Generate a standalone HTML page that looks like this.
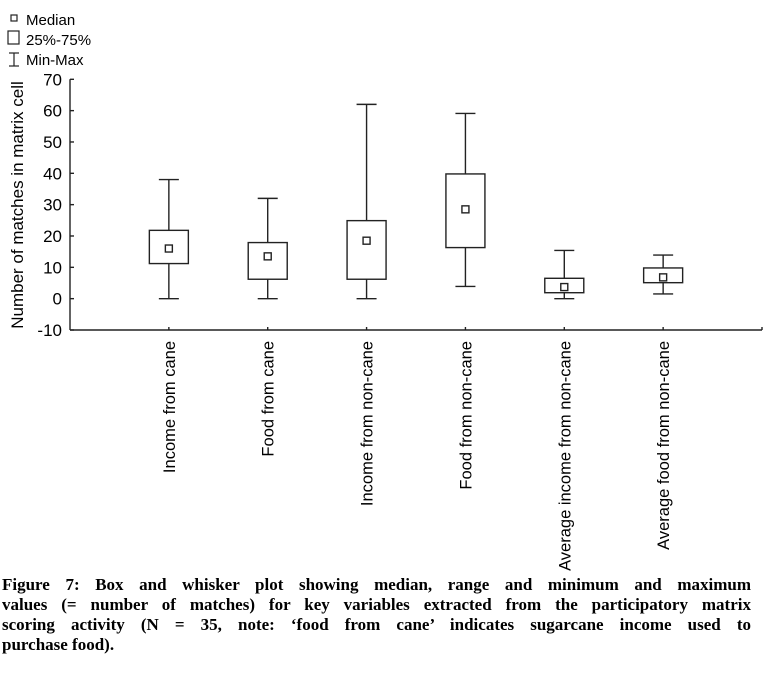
<!DOCTYPE html>
<html><head><meta charset="utf-8">
<style>
body{margin:0;background:#fff;width:776px;height:674px;overflow:hidden;position:relative;font-family:"Liberation Sans",sans-serif;}
svg{position:absolute;left:0;top:0;}
.cap{position:absolute;left:2px;width:749px;font-family:"Liberation Serif",serif;font-weight:bold;font-size:17px;line-height:20px;color:#000;white-space:nowrap;}
.j{text-align:justify;text-align-last:justify;}
</style></head>
<body>
<svg id="chart" width="776" height="575"></svg>
<div class="cap j" style="top:575px">Figure 7: Box and whisker plot showing median, range and minimum and maximum</div>
<div class="cap j" style="top:595px">values (= number of matches) for key variables extracted from the participatory matrix</div>
<div class="cap j" style="top:615px">scoring activity (N = 35, note: ‘food from cane’ indicates sugarcane income used to</div>
<div class="cap" style="top:635px">purchase food).</div>
<script>
const categories=["Income from cane","Food from cane","Income from non-cane","Food from non-cane","Average income from non-cane","Average food from non-cane"];
const mins=[0,0,0,3.9,0,1.5];
const q1s=[11.2,6.2,6.2,16.3,1.9,5.1];
const medians=[16,13.5,18.5,28.5,3.7,6.8];
const q3s=[21.8,17.9,24.9,39.8,6.5,9.8];
const maxs=[38,32,62,59.1,15.4,13.9];
const yTicks=[-10,0,10,20,30,40,50,60,70];

const NS="http://www.w3.org/2000/svg";
const svg=document.getElementById('chart');
const axL=70,axR=762,yTop=79.3,yBot=330;
const yMin=-10,yMax=70;
function y(v){return yBot-(v-yMin)/(yMax-yMin)*(yBot-yTop);}
const slot=(axR-axL)/(categories.length+1);
function x(i){return axL+slot*(i+1);}
function mk(tag,attrs){const e=document.createElementNS(NS,tag);for(const k in attrs)e.setAttribute(k,attrs[k]);svg.appendChild(e);return e;}
const st={stroke:"#222","stroke-width":1.4,fill:"none"};

let e=mk('line',Object.assign({x1:axL,y1:yTop,x2:axL,y2:yBot},st));


e=mk('line',Object.assign({x1:axL,y1:yBot,x2:axR,y2:yBot},st));


mk('line',Object.assign({x1:axR,y1:yBot,x2:axR,y2:yBot-3},st));
yTicks.forEach(t=>{
  mk('line',Object.assign({x1:axL,y1:y(t),x2:axL+4,y2:y(t)},st));
  const tx=mk('text',{x:62,y:y(t)+6,"text-anchor":"end","font-size":17,"font-family":"Liberation Sans, sans-serif"});
  tx.textContent=t;
  
  
});
const yt=mk('text',{transform:"translate(23,205) rotate(-90)","text-anchor":"middle","font-size":17,"font-family":"Liberation Sans, sans-serif"});
yt.textContent="Number of matches in matrix cell";



categories.forEach((c,i)=>{
  const cx=x(i),bw=19.5,cw=10;
  const g=document.createElementNS(NS,'g');svg.appendChild(g);
  
  
  const add=(tag,a)=>{const el=document.createElementNS(NS,tag);for(const k in a)el.setAttribute(k,a[k]);for(const k in st)if(!(k in a))el.setAttribute(k,st[k]);g.appendChild(el);};
  add('line',{x1:cx,y1:y(maxs[i]),x2:cx,y2:y(q3s[i])});
  add('line',{x1:cx,y1:y(q1s[i]),x2:cx,y2:y(mins[i])});
  add('line',{x1:cx-cw,y1:y(maxs[i]),x2:cx+cw,y2:y(maxs[i])});
  add('line',{x1:cx-cw,y1:y(mins[i]),x2:cx+cw,y2:y(mins[i])});
  add('rect',{x:cx-bw,y:y(q3s[i]),width:2*bw,height:y(q1s[i])-y(q3s[i]),fill:"#fff"});
  add('rect',{x:cx-3.5,y:y(medians[i])-3.5,width:7,height:7,fill:"#fff"});
  mk('line',Object.assign({x1:cx,y1:yBot,x2:cx,y2:yBot-3},st));
  const lt=mk('text',{transform:`translate(${cx+6},341) rotate(-90)`,"text-anchor":"end","font-size":16.5,"font-family":"Liberation Sans, sans-serif"});
  lt.textContent=c;
  
  
});

// legend
const lg=document.createElementNS(NS,'g');svg.appendChild(lg);


function la(tag,a,txt){const el=document.createElementNS(NS,tag);for(const k in a)el.setAttribute(k,a[k]);if(txt)el.textContent=txt;lg.appendChild(el);return el;}
la('rect',{x:11,y:15,width:6,height:6,fill:"none",stroke:"#222","stroke-width":1.2});
la('text',{x:26,y:25,"font-size":15,"font-family":"Liberation Sans, sans-serif"},"Median");
la('rect',{x:8,y:31,width:11,height:13,fill:"none",stroke:"#222","stroke-width":1.2});
la('text',{x:26,y:45,"font-size":15,"font-family":"Liberation Sans, sans-serif"},"25%-75%");
la('line',{x1:9,y1:53,x2:19,y2:53,stroke:"#222","stroke-width":1.2});
la('line',{x1:14,y1:53,x2:14,y2:66,stroke:"#222","stroke-width":1.2});
la('line',{x1:9,y1:66,x2:19,y2:66,stroke:"#222","stroke-width":1.2});
la('text',{x:26,y:65,"font-size":15,"font-family":"Liberation Sans, sans-serif"},"Min-Max");
</script>
</body></html>
